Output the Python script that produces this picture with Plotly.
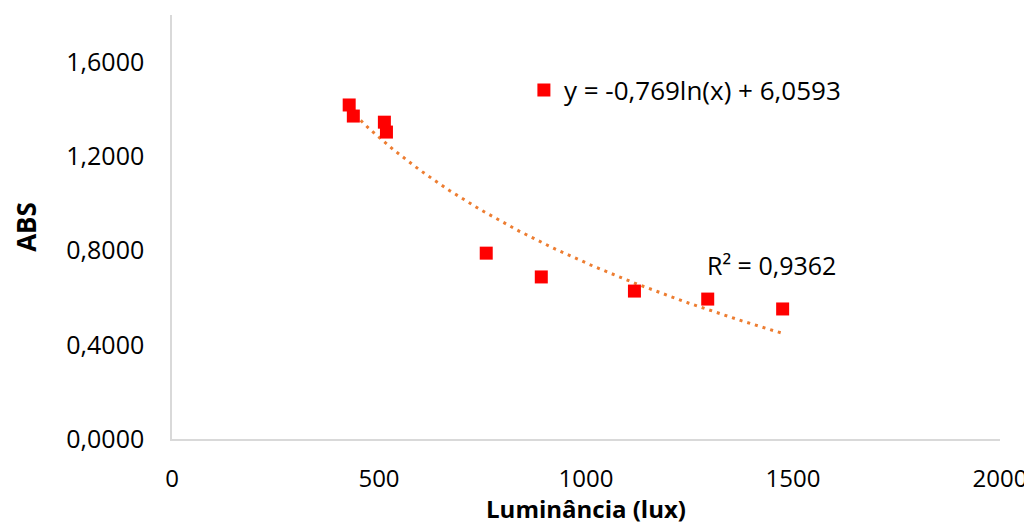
import numpy as np
import plotly.graph_objects as go

# Data
luminancia = [428, 438, 513, 518, 759, 892, 1117, 1294, 1475]
abs_vals = [1.418, 1.371, 1.345, 1.303, 0.789, 0.688, 0.628, 0.594, 0.552]

# Logarithmic trendline coefficients shown in the chart
trend_a = -0.769
trend_b = 6.0593
r2_text = "R² = 0,9362"
eq_text = "y = -0,769ln(x) + 6,0593"

x_ticks = [0, 500, 1000, 1500, 2000]
y_ticks = [0.0, 0.4, 0.8, 1.2, 1.6]

xt = np.linspace(min(luminancia), max(luminancia), 200)
yt = trend_a * np.log(xt) + trend_b

FONT = "Open Sans"
FS = 25

fig = go.Figure()
fig.add_trace(go.Scatter(
    x=xt, y=yt, mode="lines",
    line=dict(color="#ED7D31", width=3, dash="3px,5px"),
    showlegend=False, hoverinfo="skip"))
fig.add_trace(go.Scatter(
    x=luminancia, y=abs_vals, mode="markers",
    marker=dict(symbol="square", size=13, color="#FF0000"),
    name=eq_text, showlegend=True))

fig.add_annotation(x=1447, y=0.739, xref="x", yref="y", text=r2_text,
                   showarrow=False, font=dict(family=FONT, size=FS, color="#000"),
                   xanchor="center", yanchor="middle")

fig.update_layout(
    width=1024, height=517,
    margin=dict(l=164, r=32, t=7, b=86),
    paper_bgcolor="white", plot_bgcolor="white",
    separators=",.",
    font=dict(family=FONT, size=FS, color="#000"),
    legend=dict(x=0.425, y=0.823, xanchor="left", yanchor="middle",
                bgcolor="rgba(0,0,0,0)", font=dict(family=FONT, size=26, color="#000"),
                itemwidth=30),
    xaxis=dict(range=[0, 2000], tickvals=x_ticks, showgrid=False, zeroline=False,
               showline=True, linecolor="#D9D9D9", linewidth=1.5, ticks="",
               automargin=False,
               tickfont=dict(family=FONT, size=24), ticklabelstandoff=17,
               title=dict(text="<b>Luminância (lux)</b>", font=dict(family=FONT, size=24), standoff=10)),
    yaxis=dict(range=[0, 1.8], tickvals=y_ticks, tickformat=".4f", showgrid=False, zeroline=False,
               showline=True, linecolor="#D9D9D9", linewidth=1.5, ticks="",
               automargin=False,
               tickfont=dict(family=FONT, size=FS), ticklabelstandoff=21,
               title=dict(text="<b>ABS</b>", font=dict(family=FONT, size=26), standoff=22)),
)

fig.write_html("out.html")
